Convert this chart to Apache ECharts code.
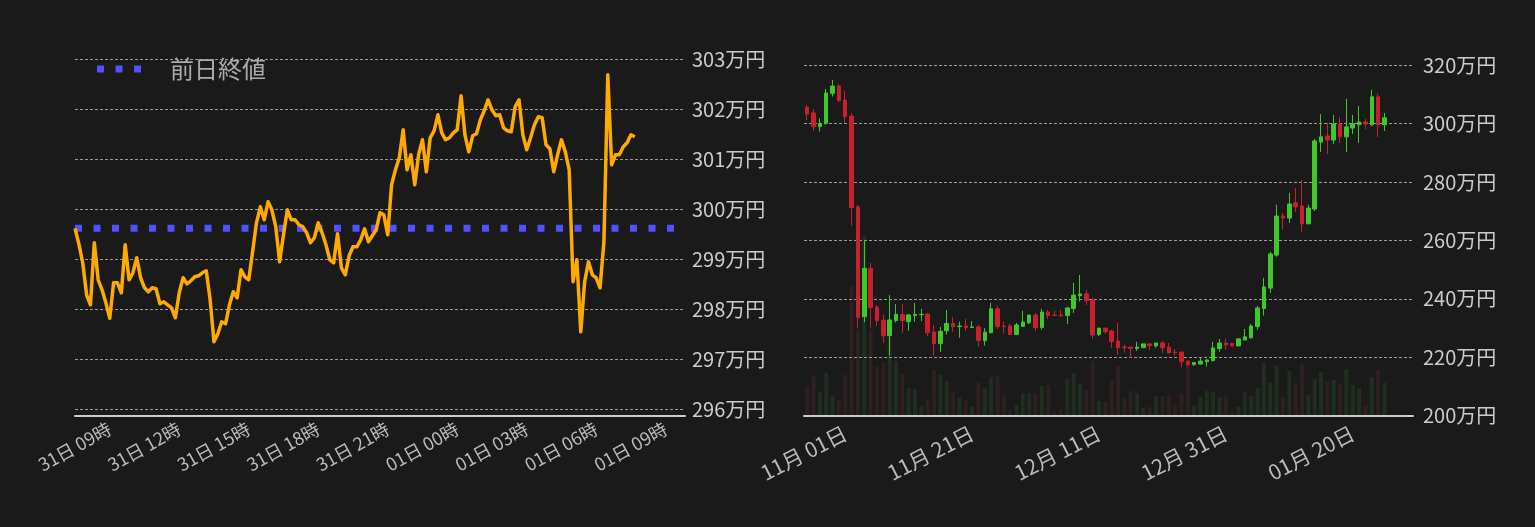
<!DOCTYPE html>
<html>
<head>
<meta charset="utf-8">
<script src="https://cdn.jsdelivr.net/npm/echarts@6/dist/echarts.min.js"></script>
<style>
html,body{margin:0;padding:0;background:#1a1a1a;}
#c{width:1535px;height:527px;}
</style>
</head>
<body>
<div id="c"></div>
<script>
// ---------- Left: intraday price (万円), 10-minute steps from 31日 07:30 ----------
const INTRADAY_START_MIN = 7 * 60 + 30;   // 31日 07:30
const INTRADAY_STEP_MIN = 10;
const INTRADAY_SLOTS = 159;               // axis runs to 01日 09:50
const PREV_CLOSE = 299.62;                // 前日終値
const PRICE = [
  299.62, 299.31, 298.93, 298.29, 298.09, 299.33, 298.59, 298.39, 298.13, 297.82,
  298.53, 298.53, 298.33, 299.29, 298.59, 298.73, 299.03, 298.63, 298.43, 298.35,
  298.43, 298.41, 298.11, 298.15, 298.09, 298.03, 297.83, 298.33, 298.63, 298.51,
  298.57, 298.65, 298.67, 298.73, 298.77, 298.19, 297.35, 297.51, 297.75, 297.71,
  298.09, 298.35, 298.23, 298.79, 298.65, 298.59, 299.15, 299.73, 300.05, 299.79,
  300.15, 299.99, 299.65, 298.95, 299.49, 299.99, 299.79, 299.79, 299.69, 299.65,
  299.53, 299.33, 299.43, 299.73, 299.53, 299.29, 298.99, 298.93, 299.51, 298.83,
  298.69, 299.07, 299.25, 299.25, 299.39, 299.61, 299.35, 299.47, 299.59, 299.93,
  299.89, 299.49, 300.49, 300.79, 301.03, 301.59, 300.79, 301.09, 300.49, 301.09,
  301.39, 300.75, 301.43, 301.57, 301.89, 301.53, 301.39, 301.43, 301.53, 301.59,
  302.27, 301.49, 301.15, 301.47, 301.51, 301.79, 301.97, 302.19, 301.99, 301.87,
  301.89, 301.63, 301.57, 301.55, 302.05, 302.19, 301.49, 301.19, 301.43, 301.69,
  301.85, 301.83, 301.29, 301.21, 300.75, 301.09, 301.39, 301.15, 300.79, 298.55,
  298.99, 297.55, 298.55, 298.95, 298.69, 298.63, 298.43, 299.35, 302.69, 300.89,
  301.09, 301.09, 301.25, 301.33, 301.49, 301.45
];

// ---------- Right: daily candles (万円) from 10/26 ----------
const DAILY_START = [2024, 9, 26];        // year, month(0-based), day
const DAILY_SLOTS = 96;
const OPEN = [
  305.6, 303.7, 299.0, 300.1, 310.4, 312.9, 308.1, 302.6, 271.5, 233.9,
  250.5, 237.2, 232.7, 227.4, 232.6, 234.7, 232.2, 234.3, 234.6, 234.8,
  228.7, 224.7, 229.1, 231.6, 230.5, 230.7, 230.2, 230.4, 225.7, 228.4,
  236.6, 230.7, 230.7, 227.8, 230.6, 231.8, 234.5, 230.2, 235.5, 234.5,
  234.5, 234.3, 236.7, 241.1, 241.7, 239.6, 227.8, 230.0, 229.0, 225.6,
  223.5, 223.5, 223.0, 223.3, 224.6, 223.9, 224.9, 223.5, 221.8, 221.8,
  218.7, 217.5, 217.7, 218.5, 218.9, 223.0, 224.9, 224.7, 223.9, 225.9,
  226.7, 230.5, 236.7, 243.7, 255.0, 268.4, 267.7, 272.9, 271.8, 265.7,
  270.8, 293.7, 295.8, 294.4, 299.9, 295.5, 298.5, 299.6, 300.6, 299.6,
  309.2, 299.6
];
const CLOSE = [
  303.3, 299.0, 300.1, 310.5, 312.9, 307.9, 302.4, 271.3, 233.6, 250.5,
  237.0, 232.6, 227.4, 232.8, 234.7, 232.6, 234.5, 234.7, 234.7, 228.4,
  224.7, 228.9, 231.6, 230.5, 230.7, 230.2, 230.4, 225.7, 228.6, 236.6,
  230.5, 230.5, 227.8, 231.1, 232.1, 234.5, 230.2, 235.5, 234.3, 234.3,
  234.2, 236.9, 241.3, 241.7, 239.4, 227.6, 230.0, 228.8, 225.4, 223.3,
  223.3, 223.0, 223.5, 224.6, 224.0, 224.9, 223.3, 221.5, 221.6, 218.5,
  217.5, 218.2, 218.7, 219.1, 223.2, 224.9, 224.2, 223.9, 226.3, 227.0,
  230.7, 236.9, 244.1, 255.4, 268.4, 267.7, 272.5, 271.5, 265.7, 271.1,
  294.1, 295.5, 294.4, 299.9, 295.5, 298.9, 299.9, 300.6, 299.9, 309.2,
  299.6, 302.0
];
const LOW = [
  301.3, 297.6, 297.3, 299.7, 309.3, 307.6, 300.1, 265.1, 229.9, 232.0,
  229.9, 230.8, 224.9, 220.6, 231.9, 228.4, 229.1, 232.2, 232.4, 227.2,
  220.6, 221.9, 227.8, 228.8, 226.7, 229.1, 230.2, 223.7, 224.0, 228.4,
  229.7, 228.0, 227.8, 227.8, 230.4, 231.4, 229.0, 229.5, 233.1, 234.3,
  233.9, 231.4, 235.2, 239.1, 237.9, 226.3, 227.3, 228.0, 223.3, 220.8,
  221.7, 219.8, 222.2, 223.3, 222.6, 223.3, 221.5, 221.5, 220.6, 216.5,
  216.8, 217.1, 217.5, 216.8, 218.5, 221.9, 222.6, 223.9, 223.9, 225.9,
  226.3, 229.5, 234.3, 242.1, 254.4, 263.6, 266.0, 269.8, 262.9, 265.7,
  270.1, 290.3, 289.6, 293.1, 293.4, 290.3, 296.5, 293.4, 298.2, 299.2,
  295.5, 297.5
];
const HIGH = [
  306.4, 305.0, 301.8, 311.9, 315.0, 313.6, 311.2, 303.6, 272.2, 260.2,
  252.3, 237.9, 234.7, 241.3, 238.2, 238.2, 234.8, 238.6, 236.6, 235.2,
  231.1, 230.4, 236.2, 233.9, 232.2, 233.1, 232.4, 231.2, 230.0, 238.6,
  237.6, 232.2, 231.4, 231.8, 235.9, 234.5, 235.2, 236.6, 236.2, 236.0,
  236.2, 237.2, 245.5, 248.2, 243.1, 240.4, 230.0, 230.0, 229.4, 231.8,
  224.3, 223.5, 225.3, 224.6, 224.6, 224.9, 225.6, 224.9, 222.9, 221.8,
  218.7, 218.4, 220.0, 219.4, 225.3, 226.3, 226.3, 224.7, 226.6, 229.7,
  231.4, 237.6, 247.2, 256.1, 272.2, 269.4, 276.3, 278.0, 280.7, 272.2,
  294.8, 303.3, 300.3, 303.0, 302.3, 308.5, 303.0, 306.1, 301.6, 311.6,
  310.2, 303.7
];
const VOLUME = [
  87, 119, 72, 129, 59, 45, 122, 389, 257, 539,
  257, 147, 159, 237, 164, 125, 83, 80, 27, 50,
  137, 122, 104, 74, 53, 45, 26, 99, 83, 116,
  119, 62, 18, 32, 68, 68, 65, 89, 92, 12,
  20, 110, 128, 95, 77, 164, 45, 42, 107, 149,
  53, 74, 68, 23, 26, 59, 59, 62, 32, 68,
  149, 29, 56, 74, 71, 56, 62, 11, 26, 71,
  59, 83, 158, 98, 149, 56, 134, 98, 158, 62,
  110, 131, 101, 107, 95, 140, 92, 83, 32, 116,
  137, 98
];

// ---------- category builders ----------
const pad2 = n => String(n).padStart(2, '0');
const timeCats = [];
for (let i = 0; i < INTRADAY_SLOTS; i++) {
  const m = INTRADAY_START_MIN + i * INTRADAY_STEP_MIN;
  const day = m < 1440 ? 31 : 1;
  const mm = m % 1440;
  timeCats.push(pad2(day) + '日 ' + pad2(Math.floor(mm / 60)) + ':' + pad2(mm % 60));
}
const dateCats = [];
for (let i = 0; i < DAILY_SLOTS; i++) {
  const d = new Date(Date.UTC(DAILY_START[0], DAILY_START[1], DAILY_START[2] + i));
  dateCats.push(pad2(d.getUTCMonth() + 1) + '月 ' + pad2(d.getUTCDate()) + '日');
}

const UP = '#3ec82a', DOWN = '#c9202d';
const FONT = '"Noto Sans CJK JP", "Noto Sans", sans-serif';

const chart = echarts.init(document.getElementById('c'));
chart.setOption({
  backgroundColor: '#1a1a1a',
  animation: false,
  textStyle: { fontFamily: FONT },
  legend: {
    data: [{ name: '前日終値', icon: 'path://M0,0h7v7h-7z M18.5,0h7v7h-7z M37,0h7v7h-7z' }],
    left: 92, top: 52,
    itemWidth: 44, itemHeight: 7,
    itemStyle: { color: '#5050ff', borderWidth: 0 },
    textStyle: { color: '#aaaaaa', fontSize: 24, fontFamily: FONT, padding: [0, 0, 0, 24] }
  },
  grid: [
    { left: 75, right: 850, top: 59.3, bottom: 117.7, outerBoundsMode: 'none' },
    { left: 804, right: 122, top: 65.3, bottom: 111.3, outerBoundsMode: 'none' }
  ],
  xAxis: [
    {
      type: 'category', gridIndex: 0, data: timeCats, boundaryGap: false, offset: 6,
      axisLine: { lineStyle: { color: '#cccccc', width: 2 } },
      axisTick: { show: false },
      splitLine: { show: false },
      axisLabel: {
        rotate: 29, margin: 12, color: '#bbbbbb', fontSize: 18, fontFamily: FONT,
        interval: (idx, val) => /:00$/.test(val) && parseInt(val.slice(4, 6), 10) % 3 === 0,
        formatter: v => v.replace(/:00$/, '時')
      }
    },
    {
      type: 'category', gridIndex: 1, data: dateCats, boundaryGap: true,
      axisLine: { lineStyle: { color: '#cccccc', width: 2 } },
      axisTick: { show: false },
      splitLine: { show: false },
      axisLabel: {
        rotate: 27, margin: 16, color: '#bbbbbb', fontSize: 21, fontFamily: FONT,
        interval: idx => idx >= 6 && (idx - 6) % 20 === 0
      }
    }
  ],
  yAxis: [
    {
      type: 'value', gridIndex: 0, position: 'right', min: 296, max: 303, interval: 1,
      axisLine: { show: false }, axisTick: { show: false },
      axisLabel: { formatter: '{value}万円', color: '#cccccc', fontSize: 20, margin: 7, fontFamily: FONT },
      splitLine: { lineStyle: { color: '#9a9a9a', type: [3, 2], width: 1 } }
    },
    {
      type: 'value', gridIndex: 1, position: 'right', min: 200, max: 320, interval: 20,
      axisLine: { show: false }, axisTick: { show: false },
      axisLabel: { formatter: '{value}万円', color: '#cccccc', fontSize: 20, margin: 10, fontFamily: FONT },
      splitLine: { lineStyle: { color: '#9a9a9a', type: [3, 2], width: 1 } }
    },
    { type: 'value', gridIndex: 1, min: 0, max: 1051, show: false, splitLine: { show: false } }
  ],
  series: [
    {
      name: '前日終値', type: 'line', xAxisIndex: 0, yAxisIndex: 0,
      data: timeCats.map(() => PREV_CLOSE),
      symbol: 'none', silent: true,
      lineStyle: { color: '#5050ff', width: 7, type: [7, 11.5], cap: 'butt' },
      itemStyle: { color: '#5050ff' }
    },
    {
      name: '価格', type: 'line', xAxisIndex: 0, yAxisIndex: 0,
      data: PRICE, symbol: 'none',
      lineStyle: { color: '#ffaa00', width: 3.5, join: 'round' }
    },
    {
      name: '出来高', type: 'bar', xAxisIndex: 1, yAxisIndex: 2, barWidth: 4, z: -1,
      data: VOLUME.map((v, i) => ({
        value: v,
        itemStyle: { color: CLOSE[i] >= OPEN[i] ? '#1f2e1f' : '#2e1f20' }
      }))
    },
    {
      name: '日足', type: 'candlestick', xAxisIndex: 1, yAxisIndex: 1, barWidth: 4,
      data: OPEN.map((o, i) => [o, CLOSE[i], LOW[i], HIGH[i]]),
      itemStyle: { color: UP, color0: DOWN, borderColor: UP, borderColor0: DOWN, borderWidth: 1 }
    }
  ]
});
</script>
</body>
</html>
